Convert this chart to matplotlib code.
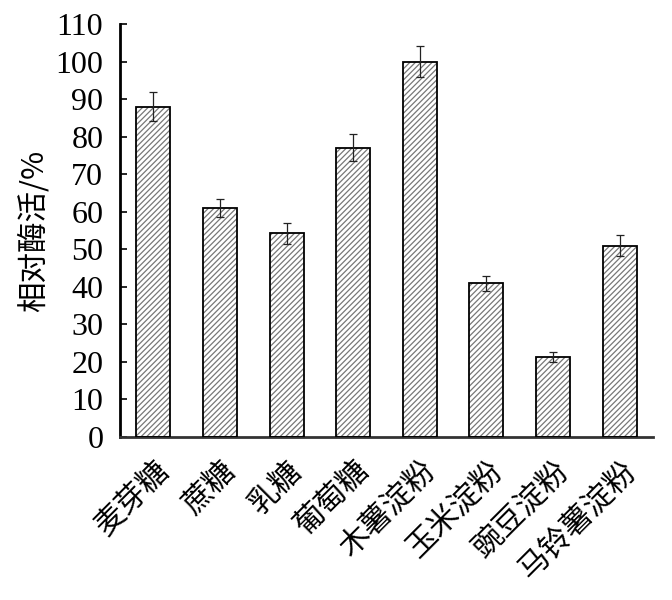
import matplotlib
matplotlib.use("Agg")
import matplotlib.pyplot as plt
import numpy as np

categories = ["麦芽糖", "蔗糖", "乳糖", "葡萄糖", "木薯淀粉", "玉米淀粉", "豌豆淀粉", "马铃薯淀粉"]
values = [88, 61, 54.3, 77, 100, 41, 21.3, 51]
errors = [3.8, 2.4, 2.8, 3.6, 4.2, 2.0, 1.3, 2.9]
yticks = list(range(0, 111, 10))

plt.rcParams['hatch.linewidth'] = 0.9

fig = plt.figure(figsize=(6.72, 6.0), dpi=100)
ax = fig.add_axes([120/672, 1-437/600, (653-120)/672, (437-24)/600])

x = np.arange(len(categories))
w = 0.51
ax.bar(x, values, width=w, color='white', edgecolor='#777777', hatch='//////', linewidth=0, zorder=2)
ax.bar(x, values, width=w, fill=False, edgecolor='black', linewidth=1.3, zorder=3)
ax.errorbar(x, values, yerr=errors, fmt='none', ecolor='#222222', elinewidth=0.9,
            capsize=3, capthick=0.9, zorder=4)

ax.set_xlim(-0.5, 7.5)
ax.set_ylim(0, 110)
ax.set_yticks(yticks)
ax.set_yticklabels([str(t) for t in yticks], fontfamily='Liberation Serif', fontsize=23)
ax.tick_params(axis='y', direction='in', length=5, width=1.2, pad=12)
ax.set_xticks(x)
ax.set_xticklabels(categories, rotation=45, rotation_mode='anchor', ha='right', va='top',
                   fontsize=22, fontfamily=['Noto Sans CJK SC', 'DejaVu Sans'])
ax.tick_params(axis='x', direction='in', length=5, width=1.5, pad=13)

for s in ['top', 'right']:
    ax.spines[s].set_visible(False)
ax.spines['left'].set_linewidth(2)
ax.spines['bottom'].set_linewidth(2)
ax.spines['bottom'].set_color('#333333')

ax.set_ylabel("相对酶活/%", fontfamily=['Noto Sans CJK SC', 'DejaVu Sans'], fontsize=22, labelpad=4)

fig.savefig("out.png", dpi=100)
